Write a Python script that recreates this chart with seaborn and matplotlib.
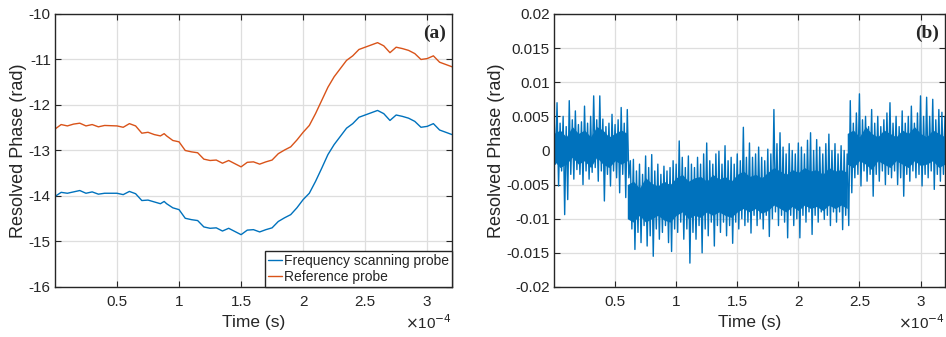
import numpy as np
import pandas as pd
import matplotlib
matplotlib.use("Agg")
import matplotlib.pyplot as plt
import seaborn as sns

# ----------------------------------------------------------
# Data (time in units of 1e-4 s)
# ----------------------------------------------------------
t_a = [0.0, 0.05, 0.1, 0.15, 0.2, 0.25, 0.3, 0.35, 0.4, 0.5, 0.55, 0.6, 0.65,
       0.7, 0.75, 0.8, 0.85, 0.88, 0.9, 0.95, 1.0, 1.05, 1.1, 1.15, 1.2, 1.25,
       1.3, 1.35, 1.4, 1.45, 1.5, 1.55, 1.6, 1.65, 1.7, 1.75, 1.8, 1.85, 1.9,
       1.95, 2.0, 2.05, 2.1, 2.15, 2.2, 2.25, 2.3, 2.35, 2.4, 2.45, 2.5, 2.55,
       2.6, 2.65, 2.7, 2.75, 2.8, 2.85, 2.9, 2.95, 3.0, 3.05, 3.1, 3.15, 3.2]

freq_scan = [-14.01, -13.92, -13.94, -13.91, -13.88, -13.94, -13.91, -13.96,
             -13.94, -13.94, -13.97, -13.90, -13.95, -14.10, -14.09, -14.13,
             -14.17, -14.12, -14.17, -14.26, -14.30, -14.49, -14.52, -14.54,
             -14.68, -14.71, -14.70, -14.77, -14.71, -14.78, -14.85, -14.75,
             -14.74, -14.79, -14.74, -14.70, -14.56, -14.48, -14.41, -14.26,
             -14.08, -13.94, -13.68, -13.39, -13.09, -12.87, -12.69, -12.51,
             -12.41, -12.27, -12.22, -12.17, -12.12, -12.19, -12.34, -12.22,
             -12.25, -12.29, -12.36, -12.49, -12.47, -12.41, -12.55, -12.60,
             -12.65]

reference = [-12.53, -12.43, -12.46, -12.42, -12.40, -12.46, -12.43, -12.48,
             -12.45, -12.46, -12.49, -12.41, -12.46, -12.62, -12.60, -12.65,
             -12.68, -12.63, -12.68, -12.78, -12.81, -13.00, -13.03, -13.05,
             -13.19, -13.22, -13.21, -13.28, -13.22, -13.29, -13.36, -13.26,
             -13.25, -13.30, -13.25, -13.21, -13.07, -12.99, -12.92, -12.77,
             -12.60, -12.45, -12.19, -11.90, -11.61, -11.38, -11.20, -11.02,
             -10.92, -10.78, -10.73, -10.68, -10.63, -10.70, -10.85, -10.73,
             -10.76, -10.80, -10.87, -11.00, -10.98, -10.92, -11.06, -11.11,
             -11.16]

# panel (b): per-sample high / low excursions, in mrad, every 0.025e-4 s
t_b = np.linspace(0.0, 3.2, 129)

noise_hi = [5.5, 7.0, 4.0, 5.0, 3.5, 7.3, 4.5, 5.8, 3.8, 4.2, 6.5, 4.0, 5.0,
            8.0, 4.5, 8.0, 4.6, 3.5, 4.0, 5.3, 3.8, 4.5, 6.3, 4.0, 6.0,
            -1.5, -1.3, -3.0, -2.0, -3.5, -0.8, -2.5, -0.6, -3.0, -2.0, -3.5,
            -2.3, -3.0, -2.5, -1.5, -2.0, 1.4, -1.0, -2.5, -0.8, -2.0, -2.5,
            -1.0, -2.0, -0.5, 1.1, -1.5, -2.0, -0.5, -0.1, -2.0, 0.7, -1.5,
            -1.0, -2.0, -0.5, -1.5, 3.4, -1.0, 1.1, -1.0, -0.5, 0.5, -1.0,
            -1.5, 0.2, -0.5, 6.0, 1.0, 2.6, 0.5, -0.5, 1.0, 0.0, -0.5, 1.1,
            0.5, -0.5, 1.5, 2.6, 0.0, 1.6, 0.5, -0.5, 1.0, 2.4, 0.0, 1.0,
            -0.5, 0.7, 0.0, -0.5,
            7.3, 4.0, 5.5, 8.3, 4.5, 5.0, 3.5, 6.0, 4.0, 5.0, 3.5, 4.5, 5.5,
            7.0, 4.0, 5.0, 3.5, 5.8, 4.0, 5.0, 6.5, 4.0, 5.5, 8.0, 5.0, 7.8,
            5.0, 7.5, 4.5, 6.0, 5.6, 5.0]

noise_lo = [-2.0, -5.2, -3.0, -9.4, -7.2, -3.5, -4.2, -2.8, -3.5, -5.0, -3.0,
            -4.2, -3.2, -2.5, -4.5, -3.0, -7.4, -3.5, -5.2, -3.0, -4.0, -6.2,
            -3.5, -6.9, -4.0,
            -11.5, -14.5, -12.0, -13.5, -11.0, -14.0, -12.5, -15.5, -11.5,
            -13.0, -12.0, -11.0, -13.5, -14.8, -11.5, -12.0, -10.5, -13.0,
            -11.5, -16.5, -12.0, -13.0, -11.0, -15.0, -11.5, -12.5, -10.5,
            -14.0, -11.0, -12.0, -10.5, -12.5, -11.0, -13.6, -10.5, -11.5,
            -10.0, -11.0, -10.5, -12.1, -9.5, -11.0, -10.0, -11.5, -9.5,
            -12.6, -10.0, -9.0, -11.0, -9.5, -10.5, -12.8, -9.5, -11.0, -10.0,
            -12.8, -9.5, -10.5, -9.0, -12.3, -9.5, -10.5, -9.0, -10.1, -9.5,
            -11.0, -9.0, -10.5, -9.0, -11.6, -9.5, -11.0,
            -6.2, -4.0, -3.5, -5.2, -3.0, -4.5, -3.5, -6.7, -3.5, -4.5, -3.0,
            -5.0, -3.5, -4.0, -3.0, -5.0, -4.0, -6.7, -3.5, -4.5, -3.0, -4.0,
            -3.5, -5.2, -3.5, -4.0, -3.0, -5.7, -3.5, -4.5, -3.5, -6.0]

# dense core of the trace (mrad), one segment per plateau, every 0.05e-4 s
core1_t = np.linspace(0.0, 0.6, 13)
core1_hi = [2.5, 3.0, 2.0, 3.5, 2.5, 3.0, 2.0, 3.5, 3.0, 2.0, 2.5, 3.0, 2.5]
core1_lo = [-1.5, -2.5, -2.0, -1.0, -2.0, -1.5, -2.5, -1.0, -2.0, -2.5, -1.5, -2.0, -1.5]

core2_t = np.linspace(0.6, 2.4, 37)
core2_hi = [-5.0, -4.5, -5.5, -4.0, -4.8, -5.2, -4.5, -5.0, -4.0, -3.5, -4.5, -4.0,
            -3.8, -4.5, -3.5, -4.2, -3.8, -4.5, -3.5, -3.0, -3.8, -3.5, -4.0, -3.2,
            -2.5, -3.0, -3.5, -2.8, -3.2, -2.5, -3.0, -2.8, -3.5, -2.5, -3.0, -2.8,
            -3.2]
core2_lo = [-10.0, -10.5, -9.5, -10.5, -10.0, -9.5, -10.2, -10.5, -9.5, -9.0, -10.0,
            -9.5, -9.8, -9.0, -9.5, -9.0, -9.5, -9.8, -9.0, -8.5, -9.0, -8.5, -9.2,
            -8.8, -8.0, -8.5, -9.0, -8.2, -8.8, -8.0, -8.5, -8.2, -8.8, -8.0, -8.5,
            -8.0, -8.5]

core3_t = np.linspace(2.4, 3.2, 17)
core3_hi = [2.5, 3.0, 2.0, 3.5, 2.5, 2.0, 3.0, 2.5, 2.0, 3.0, 2.5, 3.5, 2.5, 2.0, 3.0, 2.5, 2.0]
core3_lo = [-2.0, -2.5, -1.5, -2.0, -2.8, -1.5, -2.0, -2.5, -1.5, -2.0, -2.5, -1.5, -2.2,
            -2.0, -1.5, -2.5, -2.0]

x_ticks = [0.5, 1, 1.5, 2, 2.5, 3]
ya_ticks = [-16, -15, -14, -13, -12, -11, -10]
yb_ticks = [-0.02, -0.015, -0.01, -0.005, 0, 0.005, 0.01, 0.015, 0.02]
yb_labels = ["-0.02", "-0.015", "-0.01", "-0.005", "0", "0.005", "0.01", "0.015", "0.02"]

BLUE = "#0072BD"
ORANGE = "#D95319"
DARK = "#262626"

# ----------------------------------------------------------
# Style (MATLAB-like)
# ----------------------------------------------------------
sns.set_style("ticks", {
    "axes.edgecolor": DARK,
    "grid.color": "#dedede",
    "xtick.direction": "in",
    "ytick.direction": "in",
    "xtick.top": True,
    "ytick.right": True,
})
plt.rcParams["font.family"] = ["Liberation Sans", "DejaVu Sans"]
plt.rcParams["axes.linewidth"] = 1.0
plt.rcParams["xtick.color"] = DARK
plt.rcParams["ytick.color"] = DARK
plt.rcParams["xtick.labelsize"] = 11
plt.rcParams["ytick.labelsize"] = 11

fig = plt.figure(figsize=(9.46, 3.37), dpi=100)
ax_a = fig.add_axes([0.0581, 0.1484, 0.4197, 0.8101])
ax_b = fig.add_axes([0.5856, 0.1484, 0.4133, 0.8101])

# ----------------------------------------------------------
# Panel (a)
# ----------------------------------------------------------
df_a = pd.DataFrame({
    "t": t_a * 2,
    "phase": freq_scan + reference,
    "probe": ["Frequency scanning probe"] * len(t_a) + ["Reference probe"] * len(t_a),
})
sns.lineplot(data=df_a, x="t", y="phase", hue="probe", palette=[BLUE, ORANGE],
             estimator=None, sort=False, linewidth=1.0, ax=ax_a)
ax_a.set_xlim(0, 3.2)
ax_a.set_ylim(-16, -10)
ax_a.set_yticks(ya_ticks)
ax_a.set_yticklabels([str(v) for v in ya_ticks])
leg = ax_a.legend(loc="lower right", fontsize=10, frameon=True, fancybox=False,
                  edgecolor=DARK, framealpha=1, handlelength=1.0, handletextpad=0.15,
                  borderpad=0.2, labelspacing=0.15, borderaxespad=0.0)
leg.get_frame().set_linewidth(1.0)
ax_a.text(0.985, 0.96, "(a)", transform=ax_a.transAxes, ha="right", va="top",
          fontsize=14, fontweight="bold", family="Liberation Serif")

# ----------------------------------------------------------
# Panel (b)
# ----------------------------------------------------------
for ct, chi, clo in [(core1_t, core1_hi, core1_lo),
                     (core2_t, core2_hi, core2_lo),
                     (core3_t, core3_hi, core3_lo)]:
    ax_b.fill_between(ct, np.array(clo) * 1e-3, np.array(chi) * 1e-3,
                      color=BLUE, linewidth=0)

# high samples on the grid, low samples half a step later
t_zig = np.column_stack([t_b, t_b + 0.0125]).ravel()
v_zig = np.column_stack([noise_hi, noise_lo]).ravel() * 1e-3
sns.lineplot(x=t_zig, y=v_zig, estimator=None, sort=False, color=BLUE,
             linewidth=1.0, ax=ax_b)
ax_b.set_xlim(0, 3.2)
ax_b.set_ylim(-0.02, 0.02)
ax_b.set_yticks(yb_ticks)
ax_b.set_yticklabels(yb_labels)
ax_b.text(0.985, 0.96, "(b)", transform=ax_b.transAxes, ha="right", va="top",
          fontsize=14, fontweight="bold", family="Liberation Serif")

for ax in (ax_a, ax_b):
    ax.set_xticks(x_ticks)
    ax.set_xticklabels([f"{v:g}" for v in x_ticks])
    ax.grid(True, linewidth=0.9)
    ax.set_axisbelow(True)
    ax.tick_params(axis="x", length=4, width=0.8, pad=6)
    ax.tick_params(axis="y", length=4, width=0.8, pad=3)
    ax.set_xlabel("Time (s)", fontsize=12.5, color=DARK, labelpad=4)
    ax.set_ylabel("Resolved Phase (rad)", fontsize=13, color=DARK, labelpad=1)
    ax.text(1.0, -0.095, r"$\times$10$^{-4}$", transform=ax.transAxes, ha="right",
            va="top", fontsize=11, color=DARK)

fig.savefig("out.png", dpi=100)
